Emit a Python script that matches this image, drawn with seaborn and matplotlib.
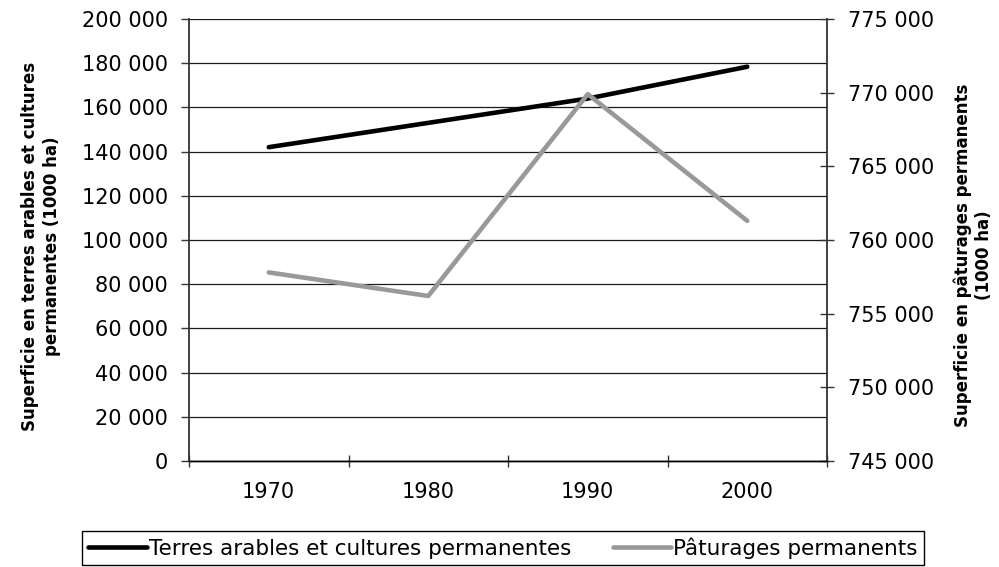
import matplotlib
matplotlib.use("Agg")
import matplotlib.pyplot as plt
import seaborn as sns
import numpy as np
import pandas as pd
from matplotlib.ticker import FixedLocator, FuncFormatter

# ---- data ----
years = ["1970", "1980", "1990", "2000"]
terres_arables = [142000, 153000, 164000, 178400]
paturages = [757800, 756200, 769900, 761300]
series_names = ["Terres arables et cultures permanentes", "Pâturages permanents"]
left_ticks = [0, 20000, 40000, 60000, 80000, 100000, 120000, 140000, 160000, 180000, 200000]
right_ticks = [745000, 750000, 755000, 760000, 765000, 770000, 775000]
left_label = "Superficie en terres arables et cultures\npermanentes (1000 ha)"
right_label = "Superficie en pâturages permanents\n(1000 ha)"

sns.set_theme(style="white")
plt.rcParams['font.family'] = ['DejaVu Sans']
plt.rcParams['text.color'] = 'black'
plt.rcParams['axes.labelcolor'] = 'black'
plt.rcParams['xtick.color'] = 'black'
plt.rcParams['ytick.color'] = 'black'

W, H = 999, 567
fig = plt.figure(figsize=(W / 100, H / 100), dpi=100)
fig.patch.set_facecolor("white")

x0, x1, y0, y1 = 189, 827, 19, 461
ax = fig.add_axes([x0 / W, 1 - y1 / H, (x1 - x0) / W, (y1 - y0) / H])
ax2 = ax.twinx()

df = pd.DataFrame({"pos": np.arange(len(years)), "year": years,
                   "terres": terres_arables, "pat": paturages})

sns.lineplot(data=df, x="pos", y="terres", ax=ax, color="black", lw=3.3,
             label=series_names[0], zorder=3)
sns.lineplot(data=df, x="pos", y="pat", ax=ax2, color="#999999", lw=3.3,
             label=series_names[1], zorder=3)

h1, l1 = ax.get_legend_handles_labels()
h2, l2 = ax2.get_legend_handles_labels()
for a in (ax, ax2):
    if a.get_legend() is not None:
        a.get_legend().remove()

fmt = FuncFormatter(lambda v, p: f"{v:,.0f}".replace(",", " "))
tick_fs = 15

# x axis (categorical)
ax.set_xlim(-0.5, len(years) - 0.5)
ax.set_xticks(df["pos"])
ax.set_xticklabels(years)
ax.xaxis.set_minor_locator(FixedLocator(np.arange(-0.5, len(years), 1.0)))
ax.tick_params(axis="x", which="major", length=0, pad=15, labelsize=tick_fs, labelcolor="black")
ax.tick_params(axis="x", which="minor", bottom=True, direction="inout", length=9,
               width=1, color="#333333")
ax.set_xlabel("")

# left axis
ax.set_ylim(0, 200000)
ax.set_yticks(left_ticks)
ax.yaxis.set_major_formatter(fmt)
ax.tick_params(axis="y", which="major", left=True, direction="out", length=6,
               width=1, color="#333333", pad=9, labelsize=tick_fs, labelcolor="black")
ax.set_ylabel("")
ax.yaxis.grid(True, color="#1a1a1a", lw=0.9)
ax.xaxis.grid(False)

# right axis
ax2.set_ylim(745000, 775000)
ax2.set_yticks(right_ticks)
ax2.yaxis.set_major_formatter(fmt)
ax2.tick_params(axis="y", which="major", right=True, direction="inout", length=10,
                width=1, color="#333333", pad=10, labelsize=tick_fs, labelcolor="black")
ax2.set_ylabel("")
ax2.grid(False)

for a in (ax, ax2):
    a.spines["top"].set_visible(False)
    a.spines["left"].set_color("#333333")
    a.spines["right"].set_color("#333333")
    a.spines["left"].set_linewidth(1.3)
    a.spines["right"].set_linewidth(1.3)
    a.spines["bottom"].set_color("black")
    a.spines["bottom"].set_linewidth(1.0)
    a.set_facecolor("none")
ax2.spines["left"].set_visible(False)
ax.spines["right"].set_visible(False)

# axis titles
fig.text(41 / W, 1 - 246 / H, left_label, rotation=90, ha="center", va="center",
         multialignment="center", fontsize=12, fontweight="bold", linespacing=1.25,
         color="black")
fig.text(973 / W, 1 - 255 / H, right_label, rotation=90, ha="center", va="center",
         multialignment="center", fontsize=12, fontweight="bold", linespacing=1.25,
         color="black")

# legend
leg = fig.legend(h1 + h2, l1 + l2, loc="upper left",
                 bbox_to_anchor=(82 / W, 0, (924 - 82) / W, 1 - 531 / H),
                 mode="expand", ncol=2, frameon=True, fancybox=False,
                 edgecolor="black", framealpha=1, fontsize=15.5,
                 handlelength=2.7, handletextpad=0.1, borderaxespad=0,
                 borderpad=0.3, columnspacing=0.5, labelcolor="black")
leg.get_frame().set_linewidth(1.0)

fig.savefig("out.png", dpi=100, facecolor="white")
